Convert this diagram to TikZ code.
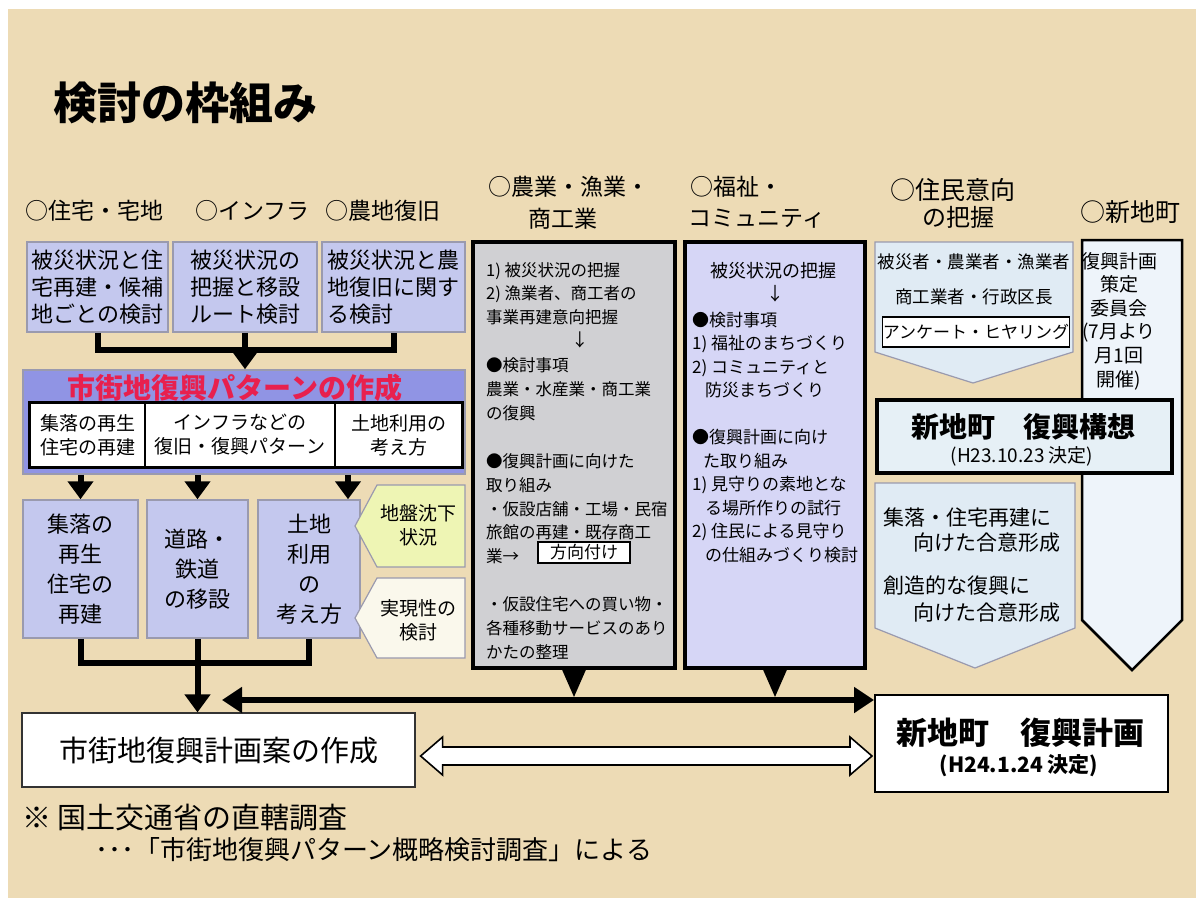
\documentclass[tikz,border=0pt]{standalone}
\usepackage{fontspec}
\setmainfont{Noto Sans CJK JP}
\usetikzlibrary{arrows.meta}
\definecolor{bgc}{HTML}{EDDBB5}
\definecolor{lav}{HTML}{C4C8EE}
\definecolor{lavedge}{HTML}{9A9AAE}
\definecolor{patc}{HTML}{9094E4}
\definecolor{grayc}{HTML}{D0D0D3}
\definecolor{lavtwo}{HTML}{D6D6F6}
\definecolor{lblue}{HTML}{E0EBF4}
\definecolor{lbluetwo}{HTML}{EEF4FA}
\definecolor{kblue}{HTML}{E6F0F6}
\definecolor{ylw}{HTML}{EEF5B4}
\definecolor{crm}{HTML}{FAF8EC}
\definecolor{redc}{HTML}{E8204E}
\newcommand\myfs[2]{\fontsize{#1}{#2}\selectfont}
\begin{document}
\begin{tikzpicture}[x=1pt,y=-1pt,
  hdr/.style={font=\myfs{23}{28}, inner sep=0pt},
  lbox/.style={draw=lavedge, line width=1.5pt, fill=lav, inner sep=0pt, align=center},
  pbox/.style={draw=black, line width=1.2pt, fill=white, inner sep=0pt, align=center, font=\myfs{19}{24}},
  col/.style={draw=black, line width=3.5pt, inner sep=0pt},
  txt/.style={inner sep=0pt},
  conn/.style={line width=6pt, black, line join=miter},
  arr/.style={conn, -{Triangle[length=18pt,width=25pt]}},
  penta/.style={draw=lavedge, line width=1.2pt}
]
% background
\fill[white] (0,0) rectangle (1196,898);
\fill[bgc] (8,9) rectangle (1196,898);
\useasboundingbox (0,0) rectangle (1196,898);

% title
\node[anchor=west, font=\myfs{44}{50}\bfseries, txt] (title) at (53,103) {検討の枠組み};

% headers
\node[hdr, anchor=west] (h1) at (25,211) {○住宅・宅地};
\node[hdr, anchor=west] (h2) at (195,211) {○インフラ};
\node[hdr, anchor=west] (h3) at (325,211) {○農地復旧};
\node[hdr, anchor=west] (h4) at (488,187) {○農業・漁業・};
\node[hdr] (h4b) at (563,219) {商工業};
\node[hdr, anchor=west] (h5) at (690,187) {○福祉・};
\node[hdr] (h5b) at (757,219) {コミュニティ};
\node[hdr, anchor=west, font=\myfs{25}{28}] (h6) at (890,190) {○住民意向};
\node[hdr, font=\myfs{24}{28}] (h6b) at (958,217) {の把握};
\node[hdr, anchor=west, font=\myfs{25}{28}] (h7) at (1080,212) {○新地町};

% top boxes
\node[lbox, align=left, minimum width=141pt, minimum height=90pt, font=\myfs{22}{27}] (tb1) at (97.5,287) {被災状況と住\\宅再建・候補\\地ごとの検討};
\node[lbox, align=left, minimum width=144pt, minimum height=90pt, font=\myfs{22}{27}] (tb2) at (245,287) {被災状況の\\把握と移設\\ルート検討};
\node[lbox, align=left, minimum width=143pt, minimum height=90pt, font=\myfs{22}{27}] (tb3) at (393.5,287) {被災状況と農\\地復旧に関す\\る検討};

% pattern box
\node[draw=lavedge, line width=1.5pt, fill=patc, minimum width=442pt, minimum height=104pt, inner sep=0pt] (pat) at (244,422) {};
\node[font=\myfs{28}{32}\bfseries, text=redc, txt] (pattitle) at (235,388) {市街地復興パターンの作成};
\node[pbox, minimum width=115pt, minimum height=64pt] (p1) at (87.5,435) {集落の再生\\住宅の再建};
\node[pbox, minimum width=190pt, minimum height=64pt] (p2) at (240,435) {インフラなどの\\復旧・復興パターン};
\node[pbox, minimum width=127pt, minimum height=64pt] (p3) at (398.5,435) {土地利用の\\考え方};
\draw[line width=3pt] (p1.north west) rectangle (p3.south east);

% lower boxes
\node[lbox, minimum width=115pt, minimum height=138pt, font=\myfs{22}{30}] (A) at (80.5,569) {集落の\\再生\\住宅の\\再建};
\node[lbox, minimum width=101pt, minimum height=138pt, font=\myfs{22}{30}] (B) at (197.5,569) {道路・\\鉄道\\の移設};
\node[lbox, minimum width=102pt, minimum height=138pt, font=\myfs{22}{30}] (C) at (309,569) {土地\\利用\\の\\考え方};

% side pentagons
\filldraw[penta, fill=ylw] (355,526) -- (377,485) -- (465,485) -- (465,567) -- (377,567) -- cycle;
\node[font=\myfs{19}{24}, align=center, txt] (ps1) at (418,525) {地盤沈下\\状況};
\filldraw[penta, fill=crm] (355,618) -- (377,578) -- (465,578) -- (465,658) -- (377,658) -- cycle;
\node[font=\myfs{19}{24}, align=center, txt] (ps2) at (418,620) {実現性の\\検討};

% plan box
\node[draw=black!80, line width=1.2pt, fill=white, minimum width=393pt, minimum height=74pt, font=\myfs{29}{32}] (plan) at (218.5,750) {市街地復興計画案の作成};

% column 4
\node[col, fill=grayc, minimum width=202pt, minimum height=426pt] (col4) at (574,455) {};
\node[anchor=north west, font=\myfs{16.5}{23.9}, align=left, txt] (c4t) at (486,262) {1) 被災状況の把握\\2) 漁業者、商工者の\\事業再建意向把握\\\mbox{}\\●検討事項\\農業・水産業・商工業\\の復興\\\mbox{}\\●復興計画に向けた\\取り組み\\・仮設店舗・工場・民宿\\旅館の再建・既存商工\\業→\\\mbox{}\\・仮設住宅への買い物・\\各種移動サービスのあり\\かたの整理};
\node[font=\myfs{17.5}{20}, txt] (c4a) at (580,340) {↓};
\node[draw=black, line width=1.2pt, fill=white, minimum width=92pt, minimum height=21pt, inner sep=0pt, font=\myfs{17}{20}] (hoko) at (584,552.5) {方向付け};

% column 5
\node[col, fill=lavtwo, minimum width=180pt, minimum height=426pt] (col5) at (775,455) {};
\node[font=\myfs{18}{22}, txt] (c5a) at (773,271) {被災状況の把握};
\node[font=\myfs{18}{22}, txt] (c5b) at (775,294) {↓};
\node[anchor=north west, font=\myfs{17}{23.5}, align=left, txt] (c5t) at (692,312) {●検討事項\\1) 福祉のまちづくり\\2) コミュニティと\\\hspace*{13pt}防災まちづくり\\\mbox{}\\●復興計画に向け\\\hspace*{11pt}た取り組み\\1) 見守りの素地とな\\\hspace*{13pt}る場所作りの試行\\2) 住民による見守り\\\hspace*{13pt}の仕組みづくり検討};

% column 7 (tall pentagon)
\filldraw[fill=lbluetwo, draw=black, line width=2.5pt, line join=miter] (1082,240) -- (1182,240) -- (1182,620) -- (1132,670) -- (1082,620) -- cycle;
\node[font=\myfs{19}{23.6}, align=center, txt] (c7t) at (1119,321) {復興計画\\策定\\委員会\\(7月より\\月1回\\開催)};

% column 6 (pentagon)
\filldraw[penta, fill=lblue] (875,242) -- (1073,242) -- (1073,352) -- (973,383) -- (875,352) -- cycle;
\node[font=\myfs{17.5}{20}, txt] (c6a) at (974,262) {被災者・農業者・漁業者};
\node[font=\myfs{17.5}{20}, txt] (c6b) at (974,297) {商工業者・行政区長};
\node[draw=black, line width=1.2pt, fill=white, minimum width=182pt, minimum height=30pt, inner sep=0pt, font=\myfs{17}{20}] (enq) at (976,332) {アンケート・ヒヤリング};

% kousou box
\node[col, fill=kblue, minimum width=295pt, minimum height=73pt] (kousou) at (1024.5,436.5) {};
\node[font=\myfs{28}{32}\bfseries, txt] (kt1) at (1023,427) {新地町　復興構想};
\node[font=\myfs{19}{22}, txt] (kt2) at (1022,456) {(H23.10.23 決定)};

% lower pentagon
\filldraw[penta, fill=lblue] (875,483) -- (1075,483) -- (1075,628) -- (975,668) -- (875,628) -- cycle;
\node[anchor=west, font=\myfs{21}{24}, txt] (g1) at (883,518) {集落・住宅再建に};
\node[anchor=west, font=\myfs{21}{24}, txt] (g2) at (913,543) {向けた合意形成};
\node[anchor=west, font=\myfs{21}{24}, txt] (g3) at (883,585) {創造的な復興に};
\node[anchor=west, font=\myfs{21}{24}, txt] (g4) at (913,613) {向けた合意形成};

% keikaku box
\node[draw=black, line width=2pt, fill=white, minimum width=293pt, minimum height=97pt, inner sep=0pt] (keikaku) at (1021.5,743.5) {};
\node[font=\myfs{31}{34}\bfseries, txt] (kk1) at (1020,733) {新地町　復興計画};
\node[font=\myfs{21}{24}\bfseries, txt] (kk2) at (1019,766) {(H24.1.24 決定)};

% notes
\node[anchor=west, font=\myfs{29}{30}, txt] (n1) at (22,818) {※\hspace{6pt}国土交通省の直轄調査};
\node[anchor=west, font=\myfs{26}{28}, txt] (n2) at (95,850) {･･･「市街地復興パターン概略検討調査」による};

% connectors top
\coordinate (j1) at (tb2.south |- 0,350);
\draw[conn] (tb1.south) |- (j1) -| (tb3.south);
\draw[arr] (tb2.south) -- (tb2.south |- pat.north);
% pattern to lower boxes
\draw[arr] (A.north |- pat.south) -- (A.north);
\draw[arr] (B.north |- pat.south) -- (B.north);
\draw[arr] ([xshift=39pt]C.north |- pat.south) -- ([xshift=39pt]C.north);
% lower boxes to plan
\coordinate (j2) at (B.south |- 0,663);
\draw[conn] (A.south) |- (j2) -| (C.south);
\draw[arr] (B.south) -- (B.south |- plan.north);

% black double arrow
\coordinate (hl) at (222,700);
\draw[line width=5.5pt, {Triangle[length=20pt,width=25pt]}-{Triangle[length=20pt,width=25pt]}] (hl) -- (hl -| keikaku.west);
\draw[line width=2pt, -{Triangle[length=28pt,width=24pt]}] (col4.south) -- (col4.south |- 0,697);
\draw[line width=2pt, -{Triangle[length=28pt,width=24pt]}] (col5.south) -- (col5.south |- 0,697);

% hollow double arrow
\coordinate (dl) at ([xshift=5pt,yshift=-6pt]plan.east);
\coordinate (dr) at ([xshift=-2pt]dl -| keikaku.west);
\draw[fill=white, line width=1.6pt, line join=miter] (dl) -- ([shift={(22,-19)}]dl) -- ([shift={(22,-9)}]dl) -- ([shift={(-22,-9)}]dr) -- ([shift={(-22,-19)}]dr) -- (dr) -- ([shift={(-22,19)}]dr) -- ([shift={(-22,9)}]dr) -- ([shift={(22,9)}]dl) -- ([shift={(22,19)}]dl) -- cycle;
\end{tikzpicture}
\end{document}
